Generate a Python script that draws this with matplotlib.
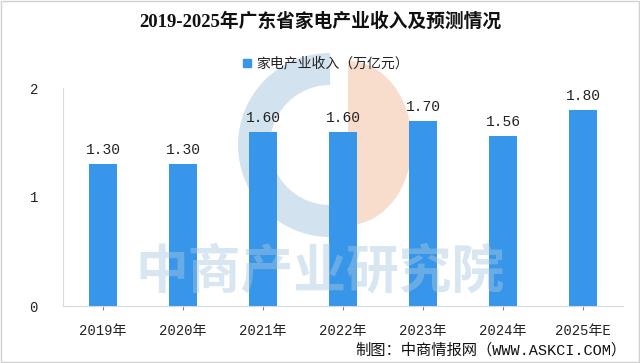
import matplotlib
matplotlib.use("Agg")
import matplotlib.pyplot as plt
import numpy as np
from matplotlib.patches import Wedge, Polygon, Rectangle

categories = ["2019年", "2020年", "2021年", "2022年", "2023年", "2024年", "2025年E"]
values = [1.30, 1.30, 1.60, 1.60, 1.70, 1.56, 1.80]
value_labels = ["1.30", "1.30", "1.60", "1.60", "1.70", "1.56", "1.80"]
yticks = [0, 1, 2]
title = "2019-2025年广东省家电产业收入及预测情况"
legend_label = "家电产业收入（万亿元）"
source = "制图：中商情报网（WWW.ASKCI.COM）"
watermark = "中商产业研究院"

W, H = 640, 363
fig = plt.figure(figsize=(W / 100, H / 100), dpi=100)
fig.patch.set_facecolor("white")

bar_color = "#3796EA"
mono = ["Liberation Mono", "Noto Sans CJK SC"]
cjk = ["Noto Sans CJK SC", "DejaVu Sans"]

# Underlay (logo) in pixel coordinates
un = fig.add_axes([0, 0, 1, 1], zorder=0)
un.set_xlim(0, W)
un.set_ylim(H, 0)
un.axis("off")
un.add_patch(Wedge((330, 145), 92, 90, 270, width=32, facecolor="#D2E3EF", lw=0))
t = np.linspace(-np.pi / 2, np.pi / 2, 60)
pts = np.column_stack([348 + 64 * np.cos(t), 143 + 82 * np.sin(t)])
un.add_patch(Polygon(pts, closed=True, facecolor="#F8DCCC", lw=0))

ax = fig.add_axes([63 / W, 57 / H, 560 / W, 218 / H], zorder=1)
ax.patch.set_alpha(0)
x = np.arange(len(categories))
ax.bar(x, values, width=0.35, color=bar_color, zorder=2)
ax.set_xlim(-0.5, len(categories) - 0.5)
ax.set_ylim(0, 2)
ax.set_yticks(yticks)
ax.set_yticklabels([str(t) for t in yticks], family=mono, fontsize=10, color="#222222")
ax.set_xticks(x)
ax.set_xticklabels(categories, family=mono, fontsize=10, color="#222222")
ax.tick_params(axis="y", length=0, pad=18)
ax.tick_params(axis="x", length=3, color="#888888", pad=10)
for s in ["top", "right"]:
    ax.spines[s].set_visible(False)
for s in ["left", "bottom"]:
    ax.spines[s].set_color("#D9D9D9")
    ax.spines[s].set_linewidth(0.8)

for xi, v, lab in zip(x, values, value_labels):
    ax.annotate(lab, (xi, v), xytext=(0, 5), textcoords="offset points",
                ha="center", va="bottom", family=mono, fontsize=10.5, color="#222222")

# Title
fig.text(0.5, 1 - 22 / H, title, ha="center", va="center", fontsize=13.5,
         fontweight="bold", family=["Liberation Serif", "Noto Sans CJK SC"], color="#111111")
# Legend
fig.patches.append(Rectangle(((243) / W, 1 - 67 / H), 8 / W, 8 / H,
                             transform=fig.transFigure, color=bar_color, figure=fig))
fig.text(256 / W, 1 - 63 / H, legend_label, ha="left", va="center", fontsize=10,
         family=cjk, color="#222222")
# Source
fig.text(626 / W, 1 - 350 / H, source, ha="right", va="center", fontsize=11,
         family=mono, color="#111111")

# Watermark text overlay
ov = fig.add_axes([0, 0, 1, 1], zorder=5)
ov.set_xlim(0, W)
ov.set_ylim(H, 0)
ov.axis("off")
ov.patch.set_alpha(0)
ov.text(320, 272, watermark, ha="center", va="center", fontsize=38, fontweight="bold",
        family=cjk, color="#A7C8E0", alpha=0.45)
ov.add_patch(Rectangle((1, 1), W - 2.5, H - 2.5, fill=False, edgecolor="#D0D0D0", lw=1))

fig.savefig("out.png", dpi=100)
